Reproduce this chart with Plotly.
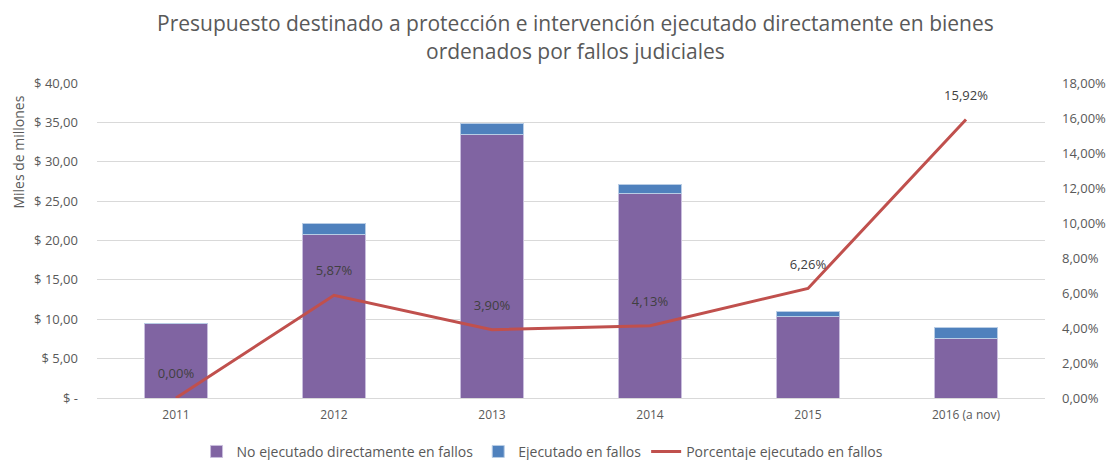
import plotly.graph_objects as go

# Budget (thousands of millions of pesos) and share executed on court rulings
years = ["2011", "2012", "2013", "2014", "2015", "2016 (a nov)"]
no_ejecutado = [9.40, 20.80, 33.44, 25.98, 10.31, 7.57]
ejecutado = [0.00, 1.30, 1.36, 1.12, 0.69, 1.43]
porcentaje = [0.00, 5.87, 3.90, 4.13, 6.26, 15.92]

left_ticks = [0, 5, 10, 15, 20, 25, 30, 35, 40]
left_labels = ["$ -", "$ 5,00", "$ 10,00", "$ 15,00", "$ 20,00", "$ 25,00",
               "$ 30,00", "$ 35,00", "$ 40,00"]
right_ticks = [0, 2, 4, 6, 8, 10, 12, 14, 16, 18]
right_labels = [f"{v:.2f}%".replace(".", ",") for v in right_ticks]

title_lines = [
    "Presupuesto destinado a protección e intervención ejecutado directamente en bienes",
    "ordenados por fallos judiciales",
]

FONT = "Open Sans"
TXT = "#595959"
GRID = "#D9D9D9"

fig = go.Figure()

fig.add_trace(go.Bar(
    x=years, y=no_ejecutado, name="No ejecutado directamente en fallos",
    marker=dict(color="#8064A2", line=dict(color="#C9BEDD", width=1)),
))
fig.add_trace(go.Bar(
    x=years, y=ejecutado, name="Ejecutado en fallos",
    marker=dict(color="#4F81BD", line=dict(color="#B9CDE5", width=1)),
))
# transparent markers keep the value labels clear of the line
fig.add_trace(go.Scatter(
    x=years, y=porcentaje, name="Porcentaje ejecutado en fallos",
    yaxis="y2", mode="lines+markers+text",
    line=dict(color="#C0504D", width=3),
    marker=dict(size=25, color="rgba(0,0,0,0)",
                line=dict(width=0, color="rgba(0,0,0,0)")),
    text=[f"{v:.2f}%".replace(".", ",") for v in porcentaje],
    textposition="top center",
    textfont=dict(family=FONT, size=13, color="#404040"),
))

annotations = [
    dict(text=line, xref="paper", yref="paper", x=0.505, y=yy,
         xanchor="center", yanchor="middle", showarrow=False,
         font=dict(family=FONT, size=21, color=TXT))
    for line, yy in zip(title_lines, [1.19, 1.10])
]
annotations.append(dict(
    text="Miles de millones", textangle=-90,
    xref="paper", yref="paper", x=-0.083, y=0.78,
    xanchor="center", yanchor="middle", showarrow=False,
    font=dict(family=FONT, size=14, color=TXT),
))

fig.update_layout(
    width=1108, height=460,
    margin=dict(l=97, r=63, t=83, b=62, autoexpand=False),
    paper_bgcolor="white", plot_bgcolor="white",
    barmode="stack", bargap=0.6,
    font=dict(family=FONT, size=13, color=TXT),
    xaxis=dict(showgrid=False, showline=True, linecolor=GRID, ticks="",
               ticklabelstandoff=6, tickfont=dict(size=12, color=TXT)),
    yaxis=dict(range=[0, 40], tickvals=left_ticks, ticktext=left_labels,
               showgrid=True, gridcolor=GRID, zeroline=False,
               ticks="", ticklabelstandoff=18,
               tickfont=dict(size=13, color=TXT)),
    yaxis2=dict(range=[0, 18], tickvals=right_ticks, ticktext=right_labels,
                overlaying="y", side="right", showgrid=False, zeroline=False,
                ticks="", ticklabelstandoff=16,
                tickfont=dict(size=13, color=TXT)),
    legend=dict(orientation="h", x=0.47, xanchor="center", y=-0.171,
                yanchor="middle", font=dict(size=14, color=TXT),
                traceorder="normal", itemwidth=30),
    annotations=annotations,
)

fig.write_html("out.html")
